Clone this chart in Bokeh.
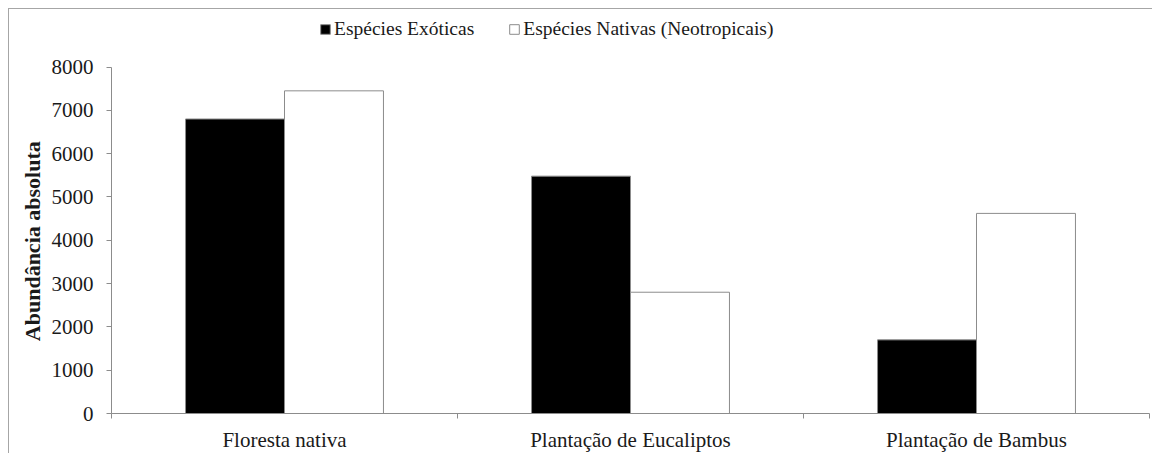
from bokeh.plotting import figure
from bokeh.models import (ColumnDataSource, Range1d, LinearAxis, FixedTicker, Legend, LegendItem)
from bokeh.transform import dodge
from bokeh.embed import file_html
from bokeh.resources import INLINE

categories = ["Floresta nativa", "Plantação de Eucaliptos", "Plantação de Bambus"]
exoticas = [6800, 5480, 1700]
nativas = [7450, 2800, 4620]
series_names = ["Espécies Exóticas", "Espécies Nativas (Neotropicais)"]
y_ticks = [0, 1000, 2000, 3000, 4000, 5000, 6000, 7000, 8000]
y_axis_max = 8000
y_view_max = 9097  # headroom above the axis for the legend

FONT = "Liberation Serif"
GREY = "#8c8c8c"

n = len(categories)
centers = [i + 0.5 for i in range(n)]
boundaries = [float(i) for i in range(n + 1)]
src = ColumnDataSource(dict(xc=centers, exo=exoticas, nat=nativas))

p = figure(width=1144, height=445, output_backend="svg", toolbar_location=None,
           x_range=Range1d(0, n), y_range=Range1d(0, y_view_max),
           x_axis_location=None, y_axis_location=None, tools="")
p.min_border_left = 102
p.min_border_right = 4
p.min_border_top = 10
p.min_border_bottom = 37
p.margin = (8, 0, 0, 8)
p.outline_line_color = None
p.xgrid.visible = False
p.ygrid.visible = False
p.background_fill_color = "white"
p.border_fill_color = "white"
p.styles = {"border-top": "1px solid #a6a6a6", "border-left": "1px solid #a6a6a6"}

bw = 0.286
r1 = p.vbar(x=dodge("xc", -bw / 2), top="exo", width=bw, source=src,
            fill_color="black", line_color=GREY, line_width=1)
r2 = p.vbar(x=dodge("xc", bw / 2), top="nat", width=bw, source=src,
            fill_color="white", line_color=GREY, line_width=1)

# y axis
yax = LinearAxis(ticker=FixedTicker(ticks=y_ticks), bounds=(0, y_axis_max))
yax.axis_label = "Abundância  absoluta" + "\u00a0" * 8
yax.axis_label_text_font = FONT
yax.axis_label_text_font_style = "bold"
yax.axis_label_text_font_size = "22px"
yax.axis_label_text_color = "#1a1a1a"
yax.axis_label_standoff = 4
yax.major_label_text_font = FONT
yax.major_label_text_font_size = "21px"
yax.major_label_text_color = "#1a1a1a"
yax.major_label_standoff = 13
yax.axis_line_color = GREY
yax.major_tick_line_color = GREY
yax.major_tick_out = 5
yax.major_tick_in = 0
yax.minor_tick_line_color = None
p.add_layout(yax, "left")

# x axis: category labels at centres, tick marks at category boundaries
xax = LinearAxis(ticker=FixedTicker(ticks=centers, minor_ticks=boundaries),
                 major_label_overrides={c: lab for c, lab in zip(centers, categories)})
xax.axis_line_color = GREY
xax.major_tick_line_color = None
xax.major_tick_out = 0
xax.major_tick_in = 0
xax.minor_tick_line_color = GREY
xax.minor_tick_out = 5
xax.minor_tick_in = 0
xax.major_label_standoff = 9
xax.major_label_text_font = FONT
xax.major_label_text_font_size = "21px"
xax.major_label_text_color = "#1a1a1a"
p.add_layout(xax, "below")

legend = Legend(items=[LegendItem(label=series_names[0], renderers=[r1]),
                       LegendItem(label=series_names[1], renderers=[r2])],
                orientation="horizontal", location=(208, 373))
legend.label_text_font = FONT
legend.label_text_font_size = "19.5px"
legend.label_text_color = "#1a1a1a"
legend.glyph_width = 12
legend.glyph_height = 12
legend.label_standoff = 3
legend.spacing = 34
legend.padding = 0
legend.margin = 0
legend.border_line_color = None
legend.background_fill_alpha = 0
p.add_layout(legend, "center")

open("out.html", "w").write(file_html(p, INLINE))
